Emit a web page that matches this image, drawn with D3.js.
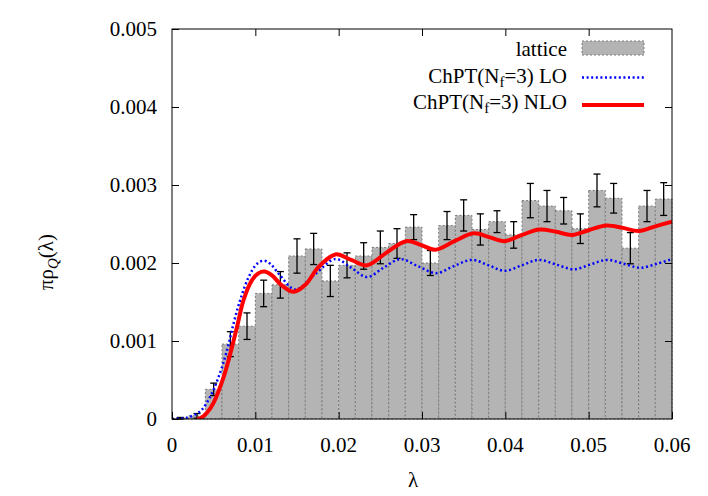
<!DOCTYPE html>
<html>
<head>
<meta charset="utf-8">
<script src="https://cdn.jsdelivr.net/npm/d3@7"></script>
<style>
  body { margin: 0; background: #fff; }
</style>
</head>
<body>
<div id="main_div"></div>
<script>
var SVG_WIDTH = 708;
var SVG_HEIGHT = 496;
var FONT = "'Liberation Serif', 'Times New Roman', serif";

// plot area (gnuplot border)
var PLOT_LEFT = 172, PLOT_RIGHT = 672, PLOT_TOP = 29, PLOT_BOTTOM = 419;

var BIN_WIDTH = 0.002;

// lattice histogram, one bin per 0.002 starting at 0
var lattice_values = [0.00001, 0.00004, 0.00038, 0.00096, 0.00119, 0.00161, 0.00172, 0.00209, 0.00218, 0.00177,
                      0.00197, 0.00209, 0.00220, 0.00225, 0.00246, 0.00200, 0.00248, 0.00261, 0.00243, 0.00253,
                      0.00236, 0.00280, 0.00273, 0.00267, 0.00244, 0.00293, 0.00283, 0.00219, 0.00273, 0.00282];
var lattice_errors = [0.00001, 0.00003, 0.00008, 0.00016, 0.00017, 0.00017, 0.00017, 0.00022, 0.00020, 0.00020,
                      0.00016, 0.00017, 0.00021, 0.00019, 0.00016, 0.00016, 0.00018, 0.00020, 0.00020, 0.00014,
                      0.00017, 0.00022, 0.00020, 0.00017, 0.00019, 0.00021, 0.00019, 0.00020, 0.00020, 0.00021];

// ChPT LO curve
var lo_lambda = [0, 0.0015, 0.0022, 0.0030, 0.0036, 0.0046, 0.0056, 0.0066, 0.0074, 0.0082, 0.0092, 0.0102, 0.0110,
                 0.0118, 0.0129, 0.0148, 0.0172, 0.0196, 0.0215, 0.0234, 0.0254, 0.0274, 0.0295, 0.0317, 0.0338,
                 0.0360, 0.0380, 0.0399, 0.0420, 0.0440, 0.0461, 0.0482, 0.0502, 0.0522, 0.0542, 0.0562, 0.0582, 0.0600];
var lo_rho = [0, 0.00001, 0.00003, 0.00007, 0.00012, 0.00029, 0.00054, 0.00088, 0.00123, 0.00153, 0.00182, 0.00199, 0.00203,
              0.00199, 0.00185, 0.00166, 0.00186, 0.00205, 0.00194, 0.00182, 0.00194, 0.00205, 0.00196, 0.00187, 0.00196,
              0.00204, 0.00197, 0.00190, 0.00197, 0.00204, 0.00198, 0.00192, 0.00198, 0.00204, 0.00199, 0.00194, 0.00199, 0.00205];

// ChPT NLO curve
var nlo_lambda = [0.0030, 0.0034, 0.0042, 0.0050, 0.0062, 0.0070, 0.0078, 0.0086, 0.0096, 0.0104, 0.0111, 0.0120,
                  0.0131, 0.0146, 0.0160, 0.0176, 0.0196, 0.0215, 0.0234, 0.0257, 0.0281, 0.0299, 0.0316, 0.0339,
                  0.0362, 0.0381, 0.0399, 0.0420, 0.0441, 0.0461, 0.0480, 0.0500, 0.0521, 0.0541, 0.0560, 0.0580, 0.0600];
var nlo_rho = [0, 0.00001, 0.00008, 0.00021, 0.00054, 0.00084, 0.00118, 0.00153, 0.00178, 0.00187, 0.00189, 0.00184,
               0.00172, 0.00163, 0.00172, 0.00195, 0.00211, 0.00204, 0.00197, 0.00213, 0.00228, 0.00223, 0.00217, 0.00228,
               0.00238, 0.00233, 0.00228, 0.00236, 0.00243, 0.00240, 0.00236, 0.00242, 0.00248, 0.00245, 0.00241, 0.00247, 0.00253];

var x_ticks = [0, 0.01, 0.02, 0.03, 0.04, 0.05, 0.06];
var x_tick_labels = ["0", "0.01", "0.02", "0.03", "0.04", "0.05", "0.06"];
var y_ticks = [0, 0.001, 0.002, 0.003, 0.004, 0.005];
var y_tick_labels = ["0", "0.001", "0.002", "0.003", "0.004", "0.005"];

var LATTICE_FILL = "#b4b4b4";
var LO_COLOR = "#0000ff";
var NLO_COLOR = "#ff0000";


function addText(parent, x, y, anchor) {
  return parent.append("text")
               .attr("x", x).attr("y", y)
               .attr("text-anchor", anchor)
               .attr("font-family", FONT)
               .attr("font-size", 21)
               .attr("fill", "#000");
}


function drawChart() {

  var svg = d3.select("#main_div").append("svg")
              .attr("width", SVG_WIDTH)
              .attr("height", SVG_HEIGHT)
              .attr("font-family", FONT);

  var x = d3.scaleLinear().domain([0, 0.06]).range([PLOT_LEFT, PLOT_RIGHT]);
  var y = d3.scaleLinear().domain([0, 0.005]).range([PLOT_BOTTOM, PLOT_TOP]);

  svg.append("clipPath").attr("id", "plot_clip")
     .append("rect")
       .attr("x", PLOT_LEFT).attr("y", PLOT_TOP)
       .attr("width", PLOT_RIGHT - PLOT_LEFT).attr("height", PLOT_BOTTOM - PLOT_TOP);

  var bins = lattice_values.map(function(v, i) {
    return {x0: i * BIN_WIDTH, x1: (i + 1) * BIN_WIDTH, v: v, err: lattice_errors[i]};
  });

  // Histogram bars
  svg.append("g").selectAll("rect")
     .data(bins).enter()
     .append("rect")
       .attr("x", function(d) { return x(d.x0); })
       .attr("y", function(d) { return y(d.v); })
       .attr("width", function(d) { return x(d.x1) - x(d.x0); })
       .attr("height", function(d) { return y(0) - y(d.v); })
       .style("fill", LATTICE_FILL)
       .style("stroke", "#7a7a7a")
       .style("stroke-width", 1)
       .style("stroke-dasharray", "2,2");

  // Error bars
  var eb = svg.append("g").style("stroke", "#000").style("stroke-width", 1.3);
  bins.forEach(function(d) {
    var cx = x((d.x0 + d.x1) / 2);
    eb.append("line").attr("x1", cx).attr("x2", cx)
      .attr("y1", y(d.v - d.err)).attr("y2", y(d.v + d.err));
    [d.v - d.err, d.v + d.err].forEach(function(e) {
      eb.append("line").attr("x1", cx - 3.5).attr("x2", cx + 3.5)
        .attr("y1", y(e)).attr("y2", y(e));
    });
  });

  var line = d3.line()
               .x(function(d) { return x(d[0]); })
               .y(function(d) { return y(d[1]); })
               .curve(d3.curveCatmullRom.alpha(0.5));

  // LO (dotted blue)
  svg.append("path")
     .datum(d3.zip(lo_lambda, lo_rho))
     .attr("d", line)
     .attr("clip-path", "url(#plot_clip)")
     .style("fill", "none")
     .style("stroke", LO_COLOR)
     .style("stroke-width", 2.5)
     .style("stroke-dasharray", "2,2.6");

  // NLO (solid red)
  svg.append("path")
     .datum(d3.zip(nlo_lambda, nlo_rho))
     .attr("d", line)
     .attr("clip-path", "url(#plot_clip)")
     .style("fill", "none")
     .style("stroke", NLO_COLOR)
     .style("stroke-width", 4);

  // Border and ticks (mirrored, inward)
  svg.append("rect")
     .attr("x", PLOT_LEFT).attr("y", PLOT_TOP)
     .attr("width", PLOT_RIGHT - PLOT_LEFT).attr("height", PLOT_BOTTOM - PLOT_TOP)
     .style("fill", "none").style("stroke", "#000").style("stroke-width", 1);

  svg.append("g").attr("transform", "translate(0," + PLOT_BOTTOM + ")")
     .call(d3.axisBottom(x).tickValues(x_ticks).tickSize(-7).tickFormat(""))
     .call(function(g) { g.select(".domain").remove(); });
  svg.append("g").attr("transform", "translate(0," + PLOT_TOP + ")")
     .call(d3.axisTop(x).tickValues(x_ticks.slice(1, -1)).tickSize(-7).tickFormat(""))
     .call(function(g) { g.select(".domain").remove(); });
  svg.append("g").attr("transform", "translate(" + PLOT_LEFT + ",0)")
     .call(d3.axisLeft(y).tickValues(y_ticks).tickSize(-7).tickFormat(""))
     .call(function(g) { g.select(".domain").remove(); });
  svg.append("g").attr("transform", "translate(" + PLOT_RIGHT + ",0)")
     .call(d3.axisRight(y).tickValues(y_ticks.slice(1, -1)).tickSize(-7).tickFormat(""))
     .call(function(g) { g.select(".domain").remove(); });

  // Tick labels
  var labels = svg.append("g");
  x_ticks.forEach(function(t, i) {
    addText(labels, x(t), 452, "middle").text(x_tick_labels[i]);
  });
  y_ticks.forEach(function(t, i) {
    addText(labels, 157, y(t) + 7, "end").text(y_tick_labels[i]);
  });

  // Axis titles
  addText(svg, (PLOT_LEFT + PLOT_RIGHT) / 2 - 9, 487, "middle").text("λ");

  var ylab = addText(svg, 0, 0, "middle")
     .attr("transform", "translate(53,262) rotate(-90)");
  ylab.append("tspan").text("πρ");
  ylab.append("tspan").attr("dy", 5).attr("font-size", 15).attr("font-style", "italic").text("Q");
  ylab.append("tspan").attr("dy", -5).text("(λ)");

  // Legend
  var LEG_TEXT_X = 567, LEG_SAMPLE_X0 = 582, LEG_SAMPLE_X1 = 644;
  var legend = svg.append("g");

  addText(legend, LEG_TEXT_X, 56, "end").text("lattice");
  legend.append("rect")
        .attr("x", LEG_SAMPLE_X0).attr("y", 41)
        .attr("width", LEG_SAMPLE_X1 - LEG_SAMPLE_X0).attr("height", 14)
        .style("fill", LATTICE_FILL).style("stroke", "#7a7a7a")
        .style("stroke-dasharray", "2,2");

  [["LO", 82.5, 77.5, LO_COLOR], ["NLO", 109, 105, NLO_COLOR]].forEach(function(row) {
    var t = addText(legend, LEG_TEXT_X, row[1], "end");
    t.append("tspan").text("ChPT(N");
    t.append("tspan").attr("dy", 4).attr("font-size", 15).text("f");
    t.append("tspan").attr("dy", -4).text("=3) " + row[0]);
    var l = legend.append("line")
          .attr("x1", LEG_SAMPLE_X0).attr("x2", LEG_SAMPLE_X1)
          .attr("y1", row[2]).attr("y2", row[2])
          .style("stroke", row[3]);
    if (row[0] == "LO") {
      l.style("stroke-width", 2.5).style("stroke-dasharray", "2,2.6");
    } else {
      l.style("stroke-width", 4);
    }
  });
}

drawChart();
</script>
</body>
</html>
